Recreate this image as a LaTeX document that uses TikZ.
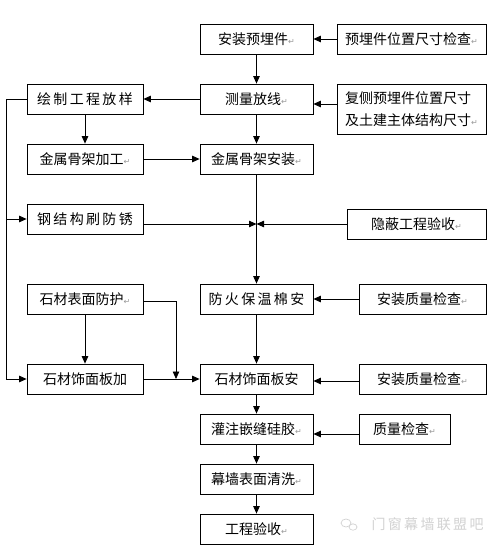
\documentclass[tikz,border=0pt]{standalone}
\usepackage{fontspec}
\setmainfont{Noto Sans CJK SC}
\newfontfamily\dejavufont{DejaVu Sans}
\usetikzlibrary{arrows.meta,calc}
\newcommand{\parmk}{{\dejavufont\fontsize{8pt}{8pt}\selectfont\color{gray!80}↵}}
\tikzset{
  box/.style={draw, line width=0.8pt, minimum height=30pt, inner sep=0pt,
    font=\fontsize{14pt}{22pt}\selectfont},
  conn/.style={line width=0.8pt, -{Triangle[length=7.5pt,width=6.5pt]}},
  plainline/.style={line width=0.8pt},
  wmark/.style={text=gray!35, font=\fontsize{14pt}{16pt}\selectfont},
}
\begin{document}
\begin{tikzpicture}[x=1pt,y=-1pt]
\fill[white] (0,0) rectangle (498,548);
\useasboundingbox (0,0) rectangle (498,548);

% centre column
\node[box, minimum width=113pt] (azyj) at (256.5,39) {安装预埋件\parmk};
\node[box, minimum width=113pt] (clfx) at (256.5,99) {测量放线\parmk};
\node[box, minimum width=113pt] (jsaz) at (256.5,159) {金属骨架安装\parmk};
\node[box, minimum width=113pt] (fhbw) at (256.5,299) {防\,火\,保\,温\,棉\,安};
\node[box, minimum width=113pt] (scan) at (256.5,379) {石材饰面板安};
\node[box, minimum width=113pt] (gzqf) at (256.5,429) {灌注嵌缝硅胶\parmk};
\node[box, minimum width=113pt] (mqqx) at (256.5,479) {幕墙表面清洗\parmk};
\node[box, minimum width=113pt] (gcys) at (256.5,529) {工程验收\parmk};

% left column
\node[box, minimum width=116pt] (hzfy) at (85,99) {绘\,制\,工\,程\,放\,样};
\node[box, minimum width=116pt] (jsjg) at (85,159) {金属骨架加工\parmk};
\node[box, minimum width=116pt] (gjg) at (85,219) {钢\,结\,构\,刷\,防\,锈};
\node[box, minimum width=116pt] (scfh) at (85,299) {石材表面防护\parmk};
\node[box, minimum width=116pt] (scj) at (85,379) {石材饰面板加};

% right column
\node[box, minimum width=149pt] (yjjc) at (411.5,39) {预埋件位置尺寸检查\parmk};
\node[box, minimum width=149pt, minimum height=50pt, align=left] (fc) at (411.5,109)
  {复侧预埋件位置尺寸\\及土建主体结构尺寸\parmk};
\node[box, minimum width=139pt] (ybgc) at (416.5,224) {隐蔽工程验收\parmk};
\node[box, minimum width=127pt] (azzl1) at (422.5,299) {安装质量检查\parmk};
\node[box, minimum width=127pt] (azzl2) at (422.5,379) {安装质量检查\parmk};
\node[box, minimum width=91pt] (zljc) at (404.5,429) {质量检查\parmk};

% helper coordinates
\coordinate (mid) at (256.5,224);
\coordinate (Ltop) at (6,99);
\coordinate (Lbot) at (6,379);
\coordinate (Rdn) at (176,379);

% centre flow
\draw[conn] (azyj) -- (clfx);
\draw[conn] (clfx) -- (jsaz);
\draw[conn] (jsaz) -- (fhbw);
\draw[conn] (fhbw) -- (scan);
\draw[conn] (scan) -- (gzqf);
\draw[conn] (gzqf) -- (mqqx);
\draw[conn] (mqqx) -- (gcys);

% right inputs
\draw[conn] (yjjc) -- (azyj);
\draw[conn] ([yshift=5pt]fc.west) -- ([yshift=-5pt]clfx.east);
\draw[conn] (ybgc) -- (mid);
\draw[conn] (azzl1) -- (fhbw);
\draw[conn] ([yshift=-2pt]azzl2.west) -- ([yshift=-2pt]scan.east);
\draw[conn] ([yshift=-5pt]zljc.west) -- ([yshift=-5pt]gzqf.east);

% left branch
\draw[conn] (clfx) -- (hzfy);
\draw[conn] (hzfy) -- (jsjg);
\draw[conn] (jsjg) -- (jsaz);
\draw[conn] ([yshift=-5pt]gjg.east) -- (mid);
\draw[conn] (hzfy.west) -- (Ltop) -- (Lbot) -- (scj.west);
\draw[conn] (Ltop |- gjg) -- (gjg.west);
\draw[conn] (scfh) -- (scj);
\draw[conn] ([yshift=-2pt]scfh.east) -| (Rdn);
\draw[conn] (scj) -- (scan);

% watermark
\draw[gray!35, line width=0.7pt] (346,523) ellipse (5pt and 4pt);
\draw[gray!35, line width=0.7pt] (353,527) ellipse (4pt and 3.2pt);
\node[wmark] (wm) at (427.5,524) {门\,窗\,幕\,墙\,联\,盟\,吧};
\end{tikzpicture}
\end{document}
